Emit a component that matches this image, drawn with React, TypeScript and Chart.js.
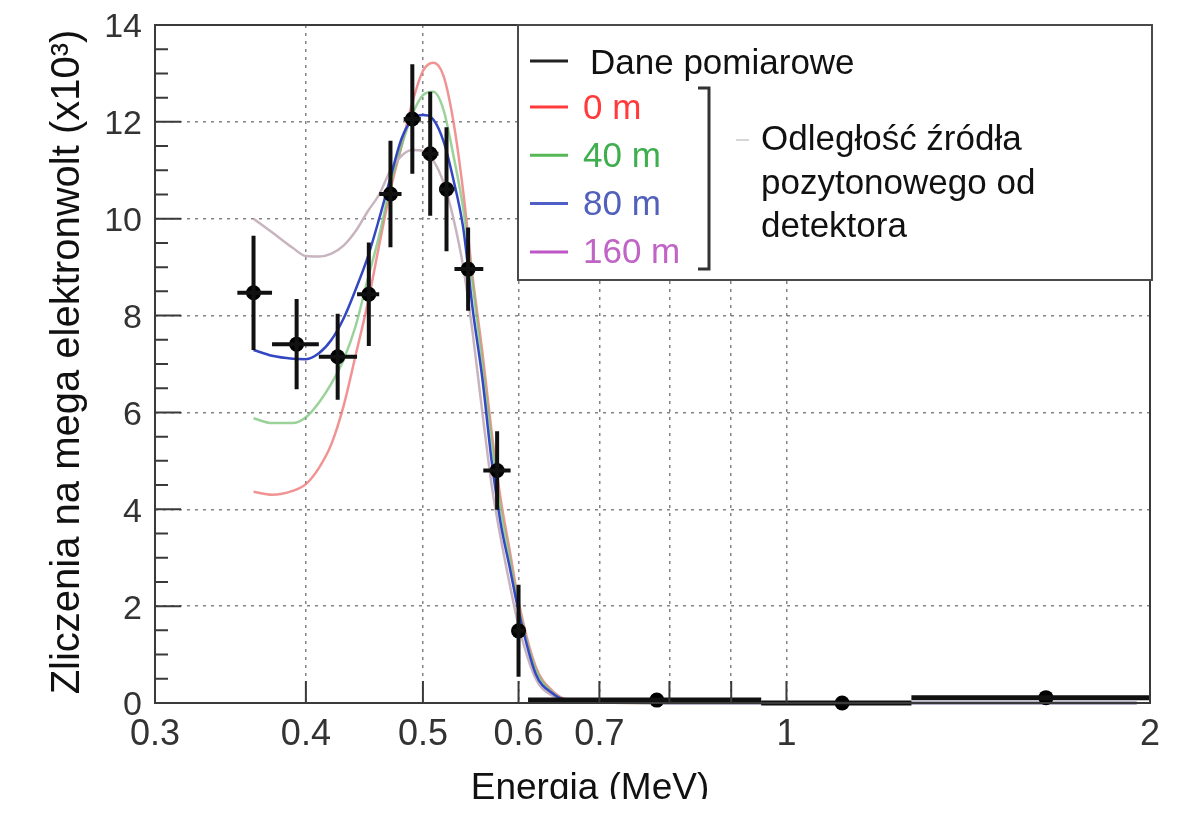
import { useEffect, useRef } from 'react';
import { Chart, registerables } from 'chart.js';

Chart.register(...registerables);

// measured spectrum (energy in MeV, counts per MeV in 10^3)
const POINT_E = [0.362, 0.393, 0.425, 0.451, 0.47, 0.49, 0.507, 0.523, 0.545, 0.576, 0.6, 0.781, 1.112, 1.64];
const POINT_Y = [8.47, 7.41, 7.15, 8.44, 10.51, 12.06, 11.34, 10.61, 8.96, 4.8, 1.49, 0.06, 0.0, 0.11];
const POINT_YERR = [1.18, 0.93, 0.89, 1.07, 1.1, 1.13, 1.28, 1.28, 0.86, 0.81, 0.95, 0.04, 0.04, 0.04];
const POINT_ELO = [0.351, 0.375, 0.41, 0.441, 0.46, 0.482, 0.499, 0.516, 0.531, 0.561, 0.594, 0.611, 0.953, 1.269];
const POINT_EHI = [0.375, 0.41, 0.441, 0.46, 0.48, 0.498, 0.515, 0.531, 0.561, 0.591, 0.607, 0.953, 1.269, 2.0];

// model curves for different source distances
const CURVE_E = [0.362, 0.375, 0.39, 0.4, 0.41, 0.42, 0.43, 0.44, 0.45, 0.46, 0.47, 0.48, 0.49, 0.5, 0.51, 0.52, 0.53, 0.54, 0.55, 0.56, 0.57, 0.58, 0.59, 0.6, 0.62, 0.64, 0.66, 0.7, 0.8, 1.0, 1.3, 1.6, 1.95];
const CURVE_0M = [4.36, 4.3, 4.38, 4.52, 4.85, 5.35, 6.15, 7.2, 8.25, 9.45, 10.6, 11.5, 12.4, 13.05, 13.22, 12.95, 12.0, 10.55, 8.75, 7.25, 5.6, 4.2, 3.15, 2.1, 0.75, 0.25, 0.06, 0.01, 0, 0, 0, 0, 0];
const CURVE_40M = [5.88, 5.78, 5.78, 5.9, 6.2, 6.6, 7.1, 7.8, 8.75, 9.65, 10.7, 11.5, 12.15, 12.55, 12.62, 12.25, 11.3, 10.2, 8.6, 7.0, 5.4, 4.0, 3.0, 2.0, 0.7, 0.22, 0.05, 0.01, 0, 0, 0, 0, 0];
const CURVE_80M = [7.29, 7.17, 7.11, 7.1, 7.22, 7.5, 7.95, 8.55, 9.2, 10.0, 10.85, 11.65, 12.05, 12.14, 12.05, 11.6, 10.8, 9.8, 8.1, 6.7, 5.0, 3.7, 2.8, 1.9, 0.6, 0.2, 0.04, 0.01, 0, 0, 0, 0, 0];
const CURVE_160M = [10.0, 9.72, 9.4, 9.23, 9.22, 9.28, 9.45, 9.75, 10.15, 10.5, 11.0, 11.3, 11.42, 11.4, 11.2, 10.75, 10.0, 9.0, 7.6, 6.0, 4.5, 3.4, 2.45, 1.6, 0.5, 0.15, 0.03, 0.01, 0, 0, 0, 0, 0];

const SERIES_LABELS = ['0 m', '40 m', '80 m', '160 m'];
const DATA_LABEL = 'Dane pomiarowe';
const NOTE_LINES = ['Odległość źródła', 'pozytonowego od', 'detektora'];

const X_TICKS = [0.3, 0.4, 0.5, 0.6, 0.7, 0.8, 0.9, 1, 2];
const X_TICK_LABELS = ['0.3', '0.4', '0.5', '0.6', '0.7', '', '', '1', '2'];
const X_TITLE = 'Energia (MeV)';
const Y_TITLE = 'Zliczenia na mega elektronwolt (x10³)';

const FONT = '"Liberation Sans", Arial, Helvetica, sans-serif';
const GRID = 'rgba(110,110,110,0.85)';
const CURVE_COLORS = ['rgba(238,120,120,0.8)', 'rgba(120,195,120,0.75)', '#3347c2', 'rgba(196,176,188,0.95)'];
const LEGEND_LINE_COLORS = ['#ff3b3b', '#55b855', '#4f5fc8', '#bf55c6'];
const LEGEND_TEXT_COLORS = ['#ff3b3b', '#3fae4f', '#5060bb', '#c064c6'];

const toXY = (xs: number[], ys: number[]) => xs.map((x, i) => ({ x, y: ys[i] }));

function drawErrorBars(chart: any) {
  const { ctx, scales: { x, y } } = chart;
  ctx.save();
  ctx.strokeStyle = '#111';
  POINT_E.forEach((e, i) => {
    const px = x.getPixelForValue(e);
    const py = y.getPixelForValue(POINT_Y[i]);
    ctx.lineWidth = i > 10 ? 5 : 4;
    ctx.beginPath();
    ctx.moveTo(px, y.getPixelForValue(POINT_Y[i] + POINT_YERR[i]));
    ctx.lineTo(px, y.getPixelForValue(POINT_Y[i] - POINT_YERR[i]));
    ctx.moveTo(x.getPixelForValue(POINT_ELO[i]), py);
    ctx.lineTo(x.getPixelForValue(POINT_EHI[i]), py);
    ctx.stroke();
  });
  ctx.restore();
}

function drawFrame(chart: any) {
  const { ctx, chartArea: a, scales: { x, y } } = chart;
  ctx.save();
  ctx.strokeStyle = '#3a3a3a';
  ctx.lineWidth = 2;
  ctx.strokeRect(a.left, a.top, a.right - a.left, a.bottom - a.top);
  ctx.beginPath();
  for (let v = 0; v <= 14; v += 0.5) {
    const py = y.getPixelForValue(v);
    ctx.moveTo(a.left, py);
    ctx.lineTo(a.left + (v % 2 === 0 ? 26 : 13), py);
  }
  X_TICKS.forEach((v) => {
    if (v <= 0.3 || v >= 2) return;
    const px = x.getPixelForValue(v);
    ctx.moveTo(px, a.bottom);
    ctx.lineTo(px, a.bottom - 22);
  });
  ctx.stroke();
  ctx.restore();
}

function drawLegend(chart: any) {
  const { ctx } = chart;
  ctx.save();
  ctx.fillStyle = '#fff';
  ctx.fillRect(518, 25, 634, 255);
  ctx.strokeStyle = '#4a4a4a';
  ctx.lineWidth = 2;
  ctx.strokeRect(518, 25, 634, 255);

  ctx.font = `35px ${FONT}`;
  ctx.textAlign = 'left';
  ctx.textBaseline = 'alphabetic';

  ctx.lineWidth = 3;
  ctx.strokeStyle = '#222';
  ctx.beginPath();
  ctx.moveTo(530, 61);
  ctx.lineTo(568, 61);
  ctx.stroke();
  ctx.fillStyle = '#111';
  ctx.fillText(DATA_LABEL, 590, 74);

  SERIES_LABELS.forEach((label, i) => {
    const ly = 107 + i * 48.3;
    ctx.strokeStyle = LEGEND_LINE_COLORS[i];
    ctx.beginPath();
    ctx.moveTo(530, ly);
    ctx.lineTo(568, ly);
    ctx.stroke();
    ctx.fillStyle = LEGEND_TEXT_COLORS[i];
    ctx.fillText(label, 583, ly + 11.5);
  });

  // bracket grouping the distances
  ctx.strokeStyle = '#333';
  ctx.lineWidth = 3;
  ctx.beginPath();
  ctx.moveTo(698, 88);
  ctx.lineTo(709, 88);
  ctx.lineTo(709, 269);
  ctx.lineTo(698, 269);
  ctx.stroke();

  ctx.strokeStyle = '#c8c8c8';
  ctx.lineWidth = 1.5;
  ctx.beginPath();
  ctx.moveTo(736, 140);
  ctx.lineTo(749, 140);
  ctx.stroke();

  ctx.fillStyle = '#111';
  NOTE_LINES.forEach((t, i) => ctx.fillText(t, 761, 150 + i * 43.5));
  ctx.restore();
}

function drawTitles(chart: any) {
  const { ctx } = chart;
  ctx.save();
  ctx.fillStyle = '#111';
  ctx.textAlign = 'center';
  ctx.textBaseline = 'alphabetic';
  ctx.font = `40px ${FONT}`;
  ctx.save();
  ctx.translate(79, 362);
  ctx.rotate(-Math.PI / 2);
  ctx.fillText(Y_TITLE, 0, 0);
  ctx.restore();
  ctx.font = `37px ${FONT}`;
  ctx.fillText(X_TITLE, 590, 799);
  ctx.restore();
}

const rootStyle = {
  id: 'rootStyle',
  afterDatasetsDraw(chart: any) {
    drawErrorBars(chart);
    drawFrame(chart);
    drawLegend(chart);
    drawTitles(chart);
  },
};

export default function App() {
  const canvasRef = useRef<HTMLCanvasElement>(null);

  useEffect(() => {
    if (!canvasRef.current) return;
    const curves = [CURVE_0M, CURVE_40M, CURVE_80M, CURVE_160M];
    const curveOrder = [4, 3, 1, 2];
    const chart = new Chart(canvasRef.current, {
      type: 'scatter',
      data: {
        datasets: [
          {
            label: DATA_LABEL,
            data: toXY(POINT_E, POINT_Y),
            showLine: false,
            pointRadius: 7.5,
            pointBackgroundColor: '#000',
            pointBorderWidth: 0,
            order: 0,
            clip: false,
          },
          ...curves.map((c, i) => ({
            label: SERIES_LABELS[i],
            data: toXY(CURVE_E, c),
            showLine: true,
            borderColor: CURVE_COLORS[i],
            borderWidth: 2.5,
            pointRadius: 0,
            cubicInterpolationMode: 'monotone' as const,
            order: curveOrder[i],
            clip: 6,
          })),
        ],
      },
      options: {
        animation: false,
        responsive: true,
        maintainAspectRatio: false,
        layout: { padding: { left: 0, top: 25, right: 52, bottom: 0 } },
        plugins: { legend: { display: false }, tooltip: { enabled: false } },
        scales: {
          x: {
            type: 'logarithmic',
            min: 0.3,
            max: 2,
            afterBuildTicks: (scale: any) => {
              scale.ticks = X_TICKS.map((v) => ({ value: v }));
            },
            afterFit: (scale: any) => {
              scale.height = 96;
            },
            ticks: {
              autoSkip: false,
              maxRotation: 0,
              minRotation: 0,
              padding: 10,
              color: '#333',
              font: { family: FONT, size: 36 },
              callback: (_v: any, i: number) => X_TICK_LABELS[i],
            },
            grid: {
              drawTicks: false,
              lineWidth: 1.5,
              color: (c: any) => (c.tick && (c.tick.value <= 0.3 || c.tick.value >= 2) ? 'rgba(0,0,0,0)' : GRID),
            },
            border: { display: false, dash: [3, 5] },
          },
          y: {
            type: 'linear',
            min: 0,
            max: 14,
            afterFit: (scale: any) => {
              scale.width = 155;
              scale.paddingTop = 0;
              scale.paddingBottom = 0;
            },
            ticks: {
              stepSize: 2,
              padding: 13,
              labelOffset: 3,
              color: '#333',
              font: { family: FONT, size: 34 },
            },
            grid: {
              drawTicks: false,
              lineWidth: 1.5,
              color: (c: any) => (c.tick && (c.tick.value <= 0 || c.tick.value >= 14) ? 'rgba(0,0,0,0)' : GRID),
            },
            border: { display: false, dash: [3, 5] },
          },
        },
      },
      plugins: [rootStyle],
    });
    return () => chart.destroy();
  }, []);

  return (
    <div style={{ position: 'absolute', left: 0, top: 0, width: 1202, height: 799, background: '#fff' }}>
      <canvas ref={canvasRef} />
    </div>
  );
}
